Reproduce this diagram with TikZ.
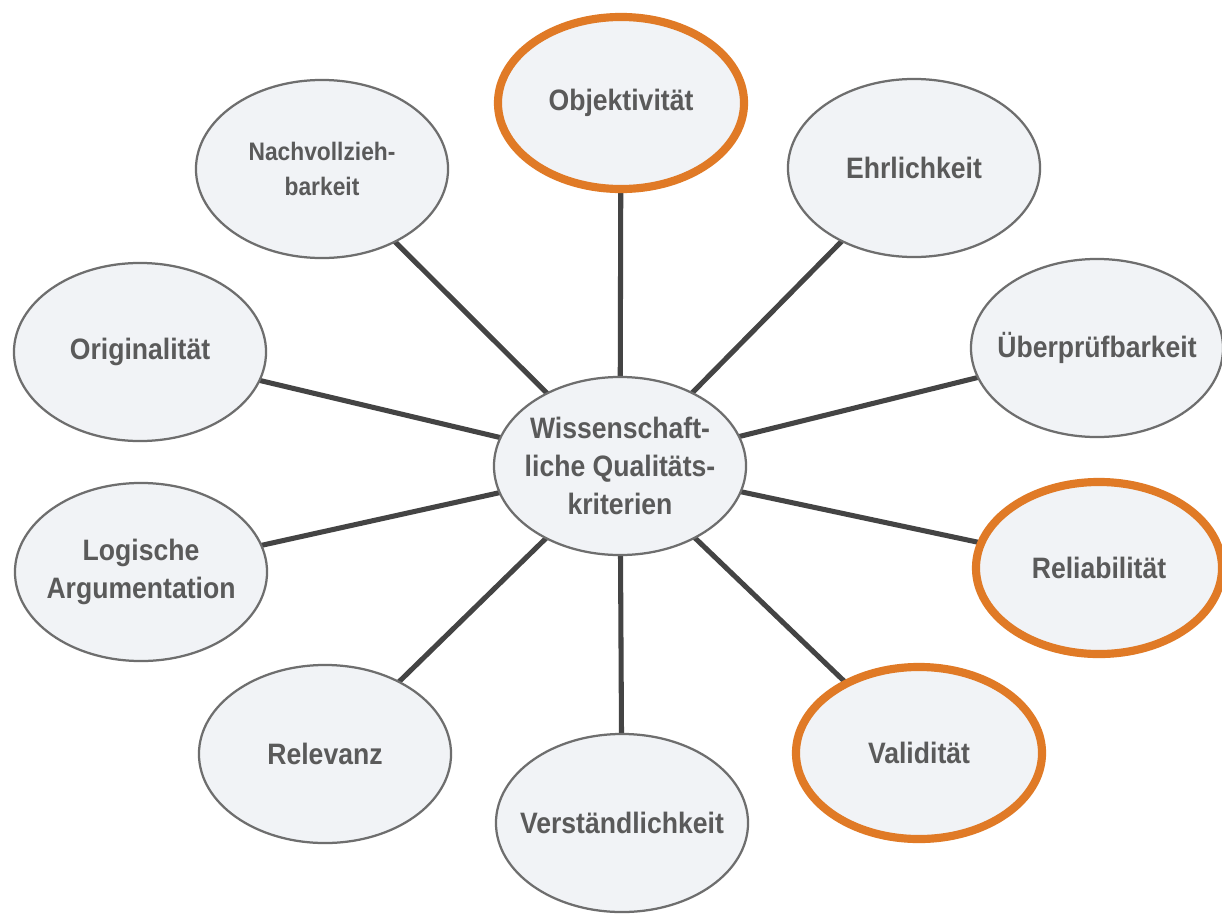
\documentclass[tikz,border=0pt]{standalone}
\usepackage{fontspec}
\setmainfont{Liberation Sans}
\newfontfamily\lblfont{Liberation Sans}[FakeStretch=0.9]
\usetikzlibrary{shapes.geometric,backgrounds}
\definecolor{txtgray}{HTML}{5A5A5A}
\definecolor{rimgray}{HTML}{6E6E6E}
\definecolor{fillgray}{HTML}{F1F3F6}
\definecolor{linegray}{HTML}{444444}
\definecolor{hiorange}{HTML}{E07A26}
\tikzset{
  bubble/.style={ellipse, draw=rimgray, line width=1.6pt, fill=fillgray,
    minimum width=6.3cm, minimum height=4.45cm, inner xsep=-2cm, inner ysep=-1.2cm,
    align=center, text=txtgray, font=\lblfont\bfseries\fontsize{21}{27}\selectfont},
  hibubble/.style={bubble, draw=hiorange, line width=5.8pt,
    minimum width=6.15cm, minimum height=4.3cm},
  spoke/.style={draw=linegray, line width=3.6pt}
}
\begin{document}
\begin{tikzpicture}[x=0.025cm,y=-0.025cm]
\useasboundingbox (0,0) rectangle (1222,914);
\node[bubble] (C) at (620,466) {Wissenschaft-\\liche Qualitäts-\\kriterien};
\node[hibubble] (O) at (621,103) {Objektivität};
\node[bubble] (E) at (914,168) {Ehrlichkeit};
\node[bubble] (U) at (1097,348) {Überprüfbarkeit};
\node[hibubble] (R) at (1099,568) {Reliabilität};
\node[hibubble] (V) at (919,753) {Validität};
\node[bubble] (Vs) at (622,823) {Verständlichkeit};
\node[bubble] (Rl) at (325,754) {Relevanz};
\node[bubble] (L) at (141,572) {Logische\\Argumentation};
\node[bubble] (Or) at (140,352) {Originalität};
\node[bubble, font=\lblfont\bfseries\fontsize{18}{25}\selectfont] (N) at (322,169) {Nachvollzieh-\\barkeit};
\begin{scope}[on background layer]
\fill[white] (0,0) rectangle (1222,914);
\foreach \t in {O,E,U,R,V,Vs,Rl,L,Or,N}{
  \draw[spoke] (C.center) -- (\t.center);
}
\end{scope}
\end{tikzpicture}
\end{document}
